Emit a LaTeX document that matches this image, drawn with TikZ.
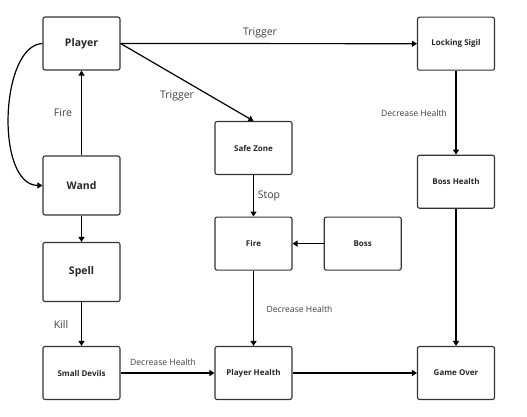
\documentclass[tikz,border=0pt]{standalone}
\usepackage{fontspec}
\setmainfont{Open Sans}
\usetikzlibrary{arrows.meta}
\begin{document}
\begin{tikzpicture}[x=1pt,y=-1pt,
  box/.style={draw=black!80,line width=1.1pt,rounded corners=2pt,minimum width=77pt,minimum height=53pt,inner sep=0pt,font=\bfseries\fontsize{8}{9}\selectfont,text=black!85},
  bigbox/.style={box,font=\bfseries\fontsize{10.5}{12}\selectfont},
  conn/.style={draw=black,line width=1.2pt,-{Triangle[length=5pt,width=6pt]}},
  lbl/.style={font=\fontsize{10.5}{12}\selectfont,text=black!75,inner sep=0pt},
  slbl/.style={font=\fontsize{8.6}{10}\selectfont,text=black!75,inner sep=0pt}]
\useasboundingbox (0,0) rectangle (527,417);
\node[bigbox] (player) at (81.5,43.5) {Player};
\node[bigbox,minimum height=59pt] (wand) at (81.5,185.5) {Wand};
\node[bigbox,minimum height=59pt] (spell) at (81.5,272) {Spell};
\node[box] (devils) at (81.5,373) {Small Devils};
\node[box] (safe) at (253.5,148) {Safe Zone};
\node[box] (fire) at (253.5,243.6) {Fire};
\node[box] (boss) at (362.7,243.6) {Boss};
\node[box] (phealth) at (253.5,373) {Player Health};
\node[box] (sigil) at (456,43.7) {Locking Sigil};
\node[box] (bhealth) at (456,181.7) {Boss Health};
\node[box] (over) at (456,373) {Game Over};
\draw[conn] (player.east) -- (sigil.west);
\draw[conn] (player.east) -- (safe.north);
\draw[conn] (player.west) .. controls (0,45) and (-5,185) .. (wand.west);
\draw[conn] (wand.north) -- (player.south);
\draw[conn] (wand.south) -- (spell.north);
\draw[conn] (spell.south) -- (devils.north);
\draw[conn] (devils.east) -- (phealth.west);
\draw[conn] (safe.south) -- (fire.north);
\draw[conn] (boss.west) -- (fire.east);
\draw[conn] (fire.south) -- (phealth.north);
\draw[conn] (phealth.east) -- (over.west);
\draw[conn] (sigil.south) -- (bhealth.north);
\draw[conn] (bhealth.south) -- (over.north);
\node[lbl] (t1) at (260,33) {Trigger};
\node[lbl] (t2) at (177,96) {Trigger};
\node[lbl] (lfire) at (63,113) {Fire};
\node[lbl] (lstop) at (269,196) {Stop};
\node[lbl] (lkill) at (61,325) {Kill};
\node[slbl] (d1) at (414,113) {Decrease Health};
\node[slbl] (d2) at (299.5,309) {Decrease Health};
\node[slbl] (d3) at (163,362) {Decrease Health};
\end{tikzpicture}
\end{document}
